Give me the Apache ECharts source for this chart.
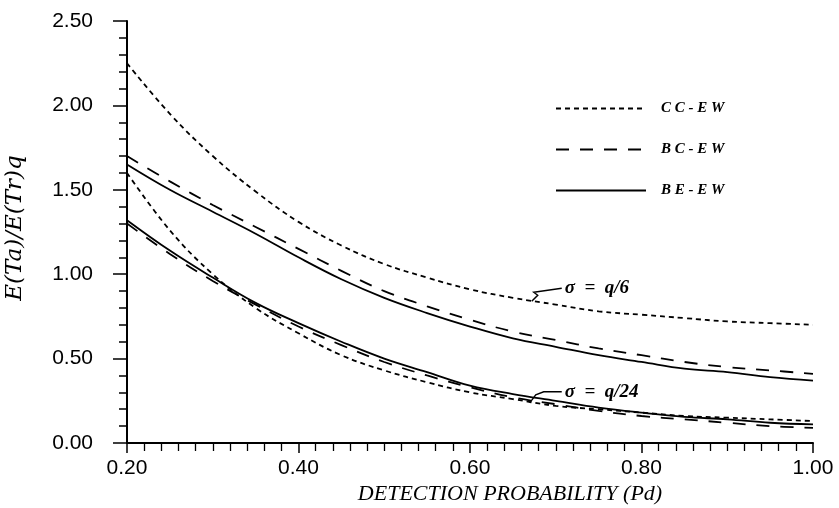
<!DOCTYPE html>
<html>
<head>
<meta charset="utf-8">
<script src="https://cdn.jsdelivr.net/npm/echarts@6/dist/echarts.min.js"></script>
<style>
  html, body { margin: 0; padding: 0; background: #fff; }
  #chart { width: 839px; height: 508px; }
</style>
</head>
<body>
<div id="chart"></div>
<script>
// Detection probability sample points
const pd = [0.20, 0.25, 0.30, 0.35, 0.40, 0.45, 0.50, 0.55, 0.60, 0.65, 0.70, 0.75, 0.80, 0.85, 0.90, 0.95, 1.00];

// sigma = q/6
const ccHigh = [2.25, 1.95, 1.70, 1.49, 1.31, 1.17, 1.06, 0.98, 0.91, 0.86, 0.82, 0.78, 0.76, 0.74, 0.72, 0.71, 0.70];
const bcHigh = [1.70, 1.55, 1.41, 1.28, 1.15, 1.02, 0.90, 0.81, 0.73, 0.66, 0.61, 0.56, 0.52, 0.48, 0.45, 0.43, 0.41];
const beHigh = [1.65, 1.50, 1.37, 1.24, 1.10, 0.97, 0.86, 0.77, 0.69, 0.62, 0.57, 0.52, 0.48, 0.44, 0.42, 0.39, 0.37];

// sigma = q/24
const ccLow = [1.60, 1.26, 1.00, 0.80, 0.65, 0.52, 0.43, 0.36, 0.30, 0.26, 0.22, 0.20, 0.18, 0.16, 0.15, 0.14, 0.13];
const bcLow = [1.30, 1.12, 0.96, 0.82, 0.69, 0.58, 0.48, 0.40, 0.33, 0.27, 0.23, 0.19, 0.16, 0.14, 0.12, 0.10, 0.09];
const beLow = [1.32, 1.14, 0.98, 0.83, 0.71, 0.60, 0.50, 0.42, 0.34, 0.29, 0.25, 0.21, 0.18, 0.155, 0.14, 0.12, 0.11];

const legendNames = ['CC-EW', 'BC-EW', 'BE-EW'];
const xTickLabels = ['0.20', '0.40', '0.60', '0.80', '1.00'];
const yTickLabels = ['0.00', '0.50', '1.00', '1.50', '2.00', '2.50'];

const styles = {
  'CC-EW': { type: [5, 4], width: 1.8 },
  'BC-EW': { type: [13, 11], width: 1.8 },
  'BE-EW': { type: 'solid', width: 1.8 }
};

function pairs(vals) { return pd.map((p, i) => [p, vals[i]]); }

function makeSeries(name, vals) {
  return {
    name: name,
    type: 'line',
    smooth: 0.4,
    symbol: 'none',
    silent: true,
    data: pairs(vals),
    lineStyle: { color: '#000', width: styles[name].width, type: styles[name].type },
    itemStyle: { color: '#000' }
  };
}

const serifItalic = '"Liberation Serif", "DejaVu Serif", serif';

const chart = echarts.init(document.getElementById('chart'), null, { renderer: 'canvas' });

chart.setOption({
  animation: false,
  backgroundColor: '#fff',
  grid: { left: 127, right: 26, top: 21, bottom: 65, containLabel: false, outerBoundsMode: 'none' },
  legend: {
    data: legendNames,
    orient: 'vertical',
    left: 550,
    top: 96,
    itemWidth: 90,
    itemHeight: 14,
    itemGap: 26,
    selectedMode: false,
    itemStyle: { opacity: 0 },
    textStyle: {
      color: '#000', fontFamily: serifItalic, fontStyle: 'italic', fontWeight: 'bold',
      fontSize: 15, padding: [0, 0, 0, 10]
    },
    formatter: name => name.split('').join(' ')
  },
  xAxis: {
    type: 'value',
    min: 0.2, max: 1.0, interval: 0.2,
    axisLine: { show: true, onZero: false, lineStyle: { color: '#000', width: 2 } },
    axisTick: { show: true, length: 10, lineStyle: { color: '#000', width: 1.5 } },
    minorTick: { show: true, splitNumber: 10, length: 8, lineStyle: { color: '#000', width: 1.3 } },
    splitLine: { show: false },
    axisLabel: {
      margin: 15, color: '#000', fontSize: 21, fontFamily: '"Liberation Sans", Arial, sans-serif',
      formatter: v => xTickLabels.find(t => Math.abs(parseFloat(t) - v) < 1e-6) || ''
    }
  },
  yAxis: {
    type: 'value',
    min: 0, max: 2.5, interval: 0.5,
    axisLine: { show: true, onZero: false, lineStyle: { color: '#000', width: 2 } },
    axisTick: { show: true, length: 14, lineStyle: { color: '#000', width: 1.5 } },
    minorTick: { show: true, splitNumber: 5, length: 8, lineStyle: { color: '#000', width: 1.5 } },
    splitLine: { show: false },
    axisLabel: {
      margin: 34, color: '#000', fontSize: 21, fontFamily: '"Liberation Sans", Arial, sans-serif',
      formatter: v => yTickLabels.find(t => Math.abs(parseFloat(t) - v) < 1e-6) || ''
    }
  },
  series: [
    makeSeries('CC-EW', ccHigh),
    makeSeries('BC-EW', bcHigh),
    makeSeries('BE-EW', beHigh),
    makeSeries('CC-EW', ccLow),
    makeSeries('BC-EW', bcLow),
    makeSeries('BE-EW', beLow)
  ]
});

// Annotations: axis titles and sigma labels with short leaders to the curves
const hiPt = chart.convertToPixel({ gridIndex: 0 }, [0.672, 0.84]);
const loPt = chart.convertToPixel({ gridIndex: 0 }, [0.672, 0.25]);

const annoFont = { fontFamily: serifItalic, fontStyle: 'italic', fontWeight: 'bold', fontSize: 19, fill: '#000' };

chart.setOption({
  graphic: [
    {
      type: 'text', x: 15, y: 228, rotation: Math.PI / 2, origin: [0, 0],
      style: {
        text: 'E(Ta)/E(Tr)q', x: 0, y: 0, align: 'center', verticalAlign: 'middle',
        fontFamily: '"DejaVu Serif", serif', fontStyle: 'italic', fontSize: 23, fill: '#000'
      }
    },
    {
      type: 'text', x: 510, y: 494,
      style: {
        text: 'DETECTION PROBABILITY (Pd)', align: 'center', verticalAlign: 'middle',
        fontFamily: serifItalic, fontStyle: 'italic', fontSize: 22, fill: '#000'
      }
    },
    {
      type: 'polyline',
      shape: { points: [[hiPt[0], hiPt[1]], [hiPt[0] + 6, hiPt[1] - 6], [hiPt[0] + 2, hiPt[1] - 9], [hiPt[0] + 30, hiPt[1] - 13]] },
      style: { stroke: '#000', lineWidth: 1.4, fill: null }
    },
    {
      type: 'text', x: hiPt[0] + 33, y: hiPt[1] - 13,
      style: Object.assign({ text: 'σ  =  q/6', align: 'left', verticalAlign: 'middle' }, annoFont)
    },
    {
      type: 'polyline',
      shape: { points: [[loPt[0] - 2, loPt[1] + 2], [loPt[0] + 4, loPt[1] - 6], [loPt[0] + 12, loPt[1] - 9], [loPt[0] + 30, loPt[1] - 9]] },
      style: { stroke: '#000', lineWidth: 1.4, fill: null }
    },
    {
      type: 'text', x: loPt[0] + 33, y: loPt[1] - 9,
      style: Object.assign({ text: 'σ  =  q/24', align: 'left', verticalAlign: 'middle' }, annoFont)
    }
  ]
});
</script>
</body>
</html>
